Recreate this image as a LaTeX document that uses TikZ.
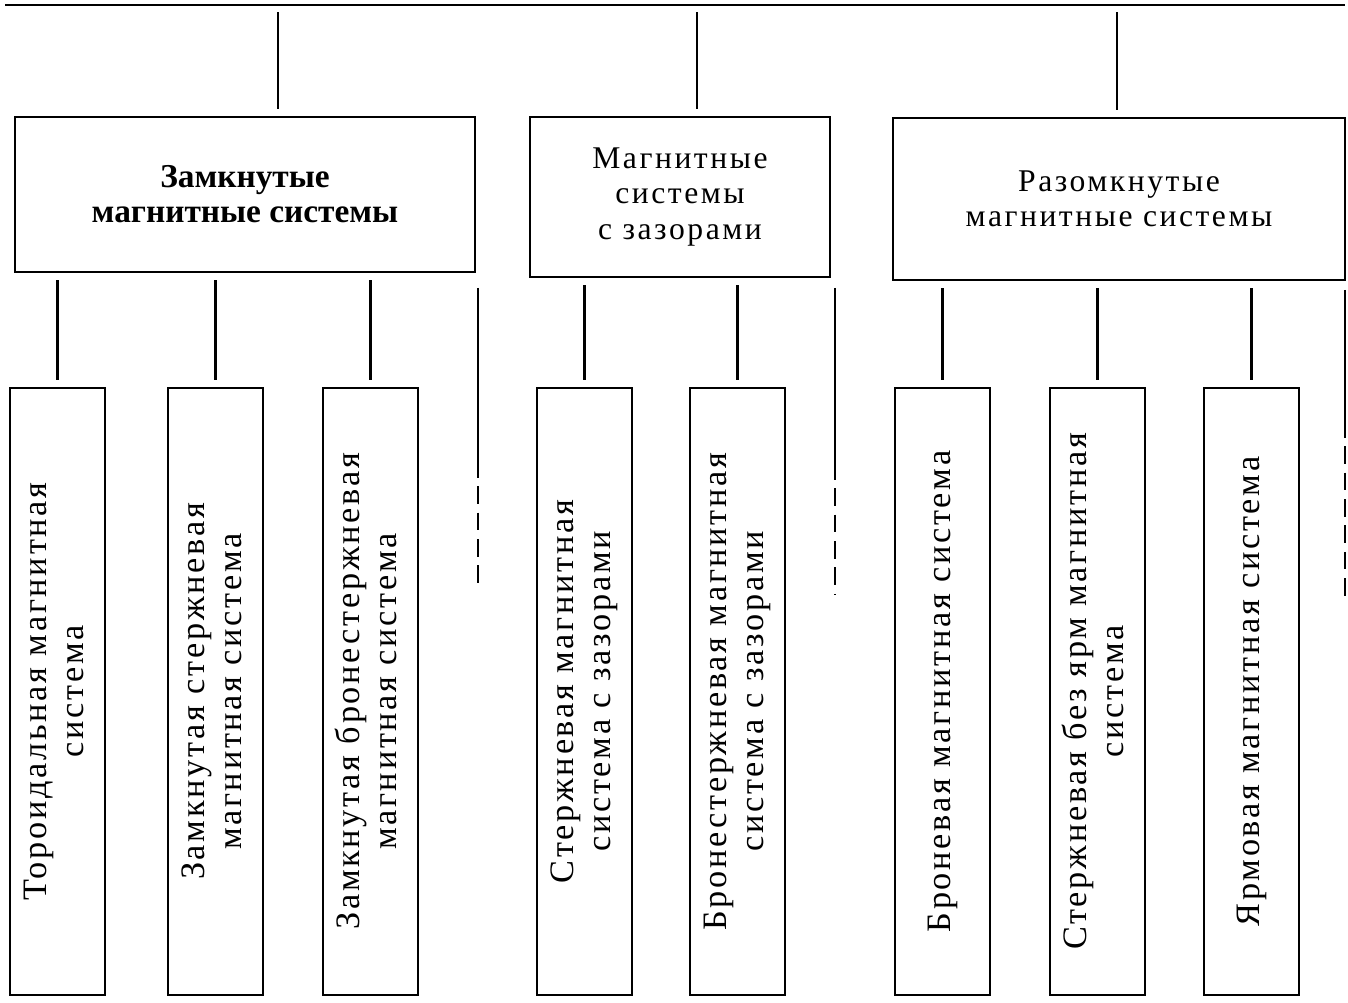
\documentclass[tikz,border=0pt]{standalone}
\usepackage{fontspec}
\setmainfont{Liberation Serif}
\newfontfamily\spaced{Liberation Serif}[LetterSpace=8]
\usetikzlibrary{positioning}
\begin{document}
\begin{tikzpicture}[
    x=0.02cm, y=-0.02cm,
    catbox/.style={rectangle, draw, line width=1.4pt, align=center, inner sep=0pt, font=\spaced\fontsize{18}{20}\selectfont},
    leafbox/.style={rectangle, draw, line width=1.4pt, minimum width=1.9cm, minimum height=12.14cm, inner sep=0pt, font=\spaced\fontsize{19.5}{21.5}\selectfont},
    link/.style={line width=1.4pt, shorten <=4pt, shorten >=4pt},
    etcline/.style={line width=1.4pt},
    etcdash/.style={line width=1.4pt, dash pattern=on 10pt off 5pt},
]
\useasboundingbox (0,0) rectangle (1348,1003);

% Top bar
\coordinate (topL) at (5,5);
\coordinate (topR) at (1345,5);
\draw[line width=1.4pt] (topL) -- (topR);
\coordinate (t1) at (278,5);
\coordinate (t2) at (697,5);
\coordinate (t3) at (1117,5);

% Groups
\node[catbox, minimum width=9.2cm, minimum height=3.1cm] (closed) at (245,194.5) {\normalfont\fontsize{19}{20}\selectfont\bfseries Замкнутые\\\normalfont\fontsize{19}{20}\selectfont\bfseries магнитные системы};
\node[catbox, minimum width=6cm, minimum height=3.2cm] (gapped) at (680,197) {Магнитные\\системы\\с зазорами};
\node[catbox, minimum width=9.04cm, minimum height=3.24cm] (open) at (1119,199) {Разомкнутые\\магнитные системы};

% Closed systems
\node[leafbox] (toroid) at (57.5,691.5) {\rotatebox{90}{\begin{tabular}{@{}c@{}}Тороидальная магнитная\\система\end{tabular}}};
\node[leafbox] (cclosed) at (215.5,691.5) {\rotatebox{90}{\begin{tabular}{@{}c@{}}Замкнутая стержневая\\магнитная система\end{tabular}}};
\node[leafbox] (sclosed) at (370.5,691.5) {\rotatebox{90}{\begin{tabular}{@{}c@{}}Замкнутая бронестержневая\\магнитная система\end{tabular}}};

% Systems with gaps
\node[leafbox] (cgap) at (584.5,691.5) {\rotatebox{90}{\begin{tabular}{@{}c@{}}Стержневая магнитная\\система с зазорами\end{tabular}}};
\node[leafbox] (sgap) at (737.5,691.5) {\rotatebox{90}{\begin{tabular}{@{}c@{}}Бронестержневая магнитная\\система с зазорами\end{tabular}}};

% Open systems
\node[leafbox] (shell) at (942.5,691.5) {\rotatebox{90}{Броневая магнитная система}};
\node[leafbox] (core) at (1097.5,691.5) {\rotatebox{90}{\begin{tabular}{@{}c@{}}Стержневая без ярм магнитная\\система\end{tabular}}};
\node[leafbox] (yoke) at (1251.5,691.5) {\rotatebox{90}{Ярмовая магнитная система}};

% Links
\draw[link] (t1) -- (t1 |- closed.north);
\draw[link] (t2) -- (t2 |- gapped.north);
\draw[link] (t3) -- (t3 |- open.north);
\foreach \leaf/\grp in {toroid/closed, cclosed/closed, sclosed/closed, cgap/gapped, sgap/gapped, shell/open, core/open, yoke/open}
  \draw[link] (\leaf.north |- \grp.south) -- (\leaf.north);

% Continuation marks
\coordinate (etcA) at (478,288);
\coordinate (etcAm) at (478,460);
\coordinate (etcAe) at (478,585);
\coordinate (etcB) at (835,288);
\coordinate (etcBm) at (835,462);
\coordinate (etcBe) at (835,595);
\coordinate (etcC) at (1345,290);
\coordinate (etcCm) at (1345,420);
\coordinate (etcCe) at (1345,600);
\draw[etcline] (etcA) -- (etcAm);
\draw[etcdash] (etcAm) -- (etcAe);
\draw[etcline] (etcB) -- (etcBm);
\draw[etcdash] (etcBm) -- (etcBe);
\draw[etcline] (etcC) -- (etcCm);
\draw[etcdash] (etcCm) -- (etcCe);
\end{tikzpicture}
\end{document}
